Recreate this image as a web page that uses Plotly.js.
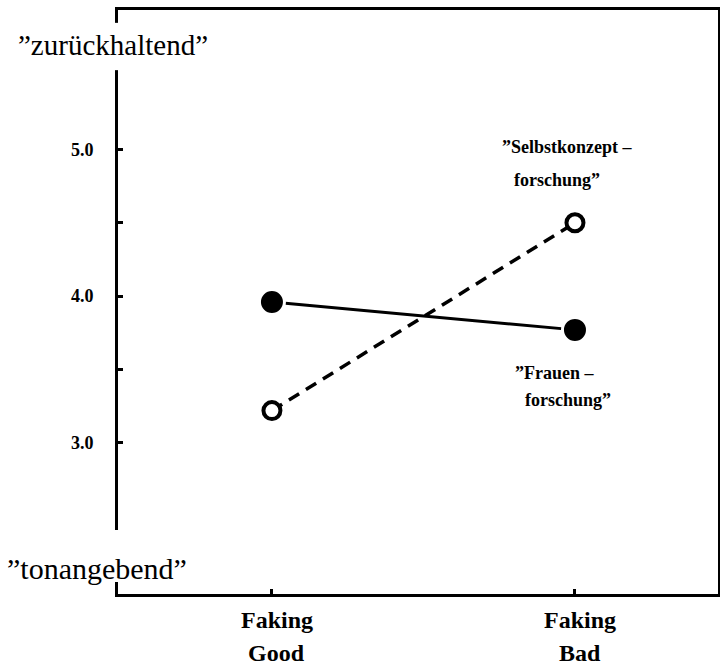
<!DOCTYPE html>
<html>
<head>
<meta charset="utf-8">
<script src="https://cdn.plot.ly/plotly-3.0.1.min.js"></script>
<style>html,body{margin:0;padding:0;background:#fff;}#chart{width:720px;height:666px;}</style>
</head>
<body>
<div id="chart"></div>
<script>
const categories = ['Faking Good', 'Faking Bad'];
const frauenValues = [3.96, 3.77];
const selbstValues = [3.22, 4.50];
const yTickVals = [3.0, 3.5, 4.0, 4.5, 5.0];
const yTickText = ['3.0', '', '4.0', '', '5.0'];
const topLabel = '”zurückhaltend”';
const bottomLabel = '”tonangebend”';

const serif = 'Liberation Serif, Times New Roman, serif';
const xIdx = categories.map((c, i) => i);

const traces = [
  {
    x: xIdx, y: frauenValues, type: 'scatter', mode: 'lines+markers',
    line: {color: 'black', width: 3},
    marker: {symbol: 'circle', size: 25, color: 'black', line: {color: 'white', width: 3}},
    hoverinfo: 'skip'
  },
  {
    x: xIdx, y: selbstValues, type: 'scatter', mode: 'lines+markers',
    line: {color: 'black', width: 3.5, dash: '12px,8px'},
    marker: {symbol: 'circle', size: 17, color: 'white', line: {color: 'black', width: 4}},
    hoverinfo: 'skip'
  }
];

const annotations = [];
categories.forEach((c, i) => {
  const parts = c.split(' ');
  parts.forEach((p, j) => {
    annotations.push({
      x: i, xref: 'x', y: [-0.0445, -0.101][j], yref: 'paper',
      text: p, showarrow: false, xanchor: 'center', yanchor: 'middle', xshift: 5,
      font: {family: serif, size: 24, color: 'black', weight: 'bold'}
    });
  });
});
annotations.push(
  {x: -0.0083, xref: 'paper', y: 0.940, yref: 'paper', text: topLabel, showarrow: false,
   xanchor: 'center', yanchor: 'middle', font: {family: serif, size: 29, color: 'black'}},
  {x: -0.035, xref: 'paper', y: 0.0445, yref: 'paper', text: bottomLabel, showarrow: false,
   xanchor: 'center', yanchor: 'middle', font: {family: serif, size: 30, color: 'black'}},
  {x: 0.6367, xref: 'paper', y: 0.7654, yref: 'paper', text: '”Selbstkonzept –', showarrow: false,
   xanchor: 'left', yanchor: 'middle', font: {family: serif, size: 18, color: 'black', weight: 'bold'}},
  {x: 0.6567, xref: 'paper', y: 0.7089, yref: 'paper', text: 'forschung”', showarrow: false,
   xanchor: 'left', yanchor: 'middle', font: {family: serif, size: 18, color: 'black', weight: 'bold'}},
  {x: 0.6583, xref: 'paper', y: 0.3784, yref: 'paper', text: '”Frauen –', showarrow: false,
   xanchor: 'left', yanchor: 'middle', font: {family: serif, size: 18, color: 'black', weight: 'bold'}},
  {x: 0.675, xref: 'paper', y: 0.3322, yref: 'paper', text: 'forschung”', showarrow: false,
   xanchor: 'left', yanchor: 'middle', font: {family: serif, size: 18, color: 'black', weight: 'bold'}}
);

const shapes = [
  {type: 'rect', xref: 'paper', yref: 'paper', x0: -0.012, x1: 0.012, y0: 0.897, y1: 0.978,
   fillcolor: 'white', line: {width: 0}, layer: 'above'},
  {type: 'rect', xref: 'paper', yref: 'paper', x0: -0.012, x1: 0.012, y0: 0.0205, y1: 0.1096,
   fillcolor: 'white', line: {width: 0}, layer: 'above'}
];

const layout = {
  width: 720, height: 666,
  margin: {l: 118, r: 2, t: 10, b: 72},
  paper_bgcolor: 'white', plot_bgcolor: 'white',
  showlegend: false,
  xaxis: {
    range: [-0.508, 1.472], tickvals: xIdx, ticktext: categories, showticklabels: false,
    ticks: 'inside', ticklen: 5, tickwidth: 3, tickcolor: 'black',
    showline: true, linecolor: 'black', linewidth: 3, mirror: true,
    showgrid: false, zeroline: false
  },
  yaxis: {
    range: [1.97, 5.95], tickvals: yTickVals, ticktext: yTickText,
    ticks: 'inside', ticklen: 5, tickwidth: 3, tickcolor: 'black',
    ticklabelstandoff: 18,
    tickfont: {family: serif, size: 18, color: 'black', weight: 'bold'},
    showline: true, linecolor: 'black', linewidth: 3, mirror: true,
    showgrid: false, zeroline: false
  },
  annotations: annotations,
  shapes: shapes
};

Plotly.newPlot('chart', traces, layout, {displayModeBar: false, staticPlot: true});
</script>
</body>
</html>
